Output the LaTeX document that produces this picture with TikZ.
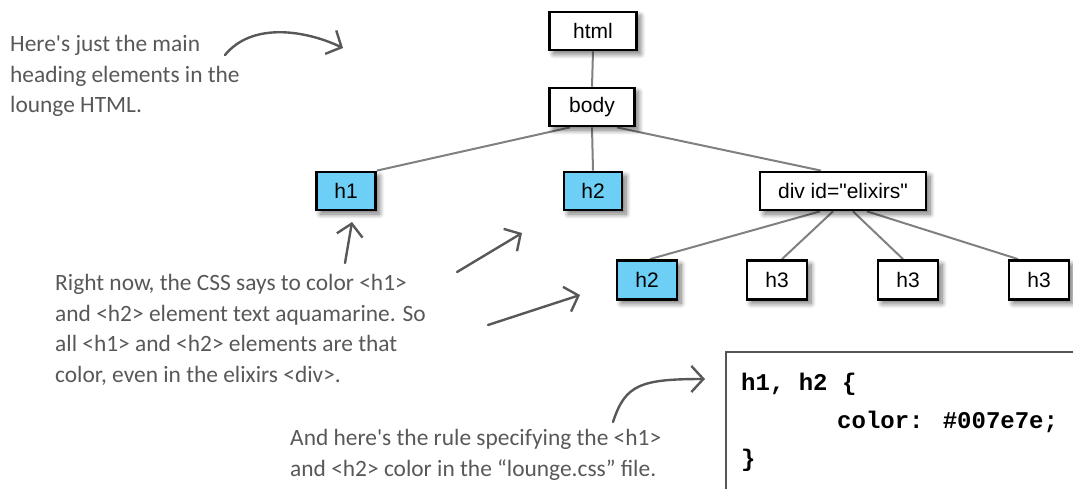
\documentclass[tikz,border=0pt]{standalone}
\usepackage{fontspec}
\setmainfont{Liberation Sans}[Ligatures=TeXOff]
\newfontfamily\handfont{Carlito}
\newfontfamily\codefont{Liberation Mono}
\usetikzlibrary{shadows.blur,arrows.meta,calc}
\definecolor{aqua}{RGB}{110,207,246}
\definecolor{edgegray}{RGB}{128,128,128}
\definecolor{notegray}{RGB}{88,88,88}
\definecolor{boxgray}{RGB}{85,85,85}
\pgfdeclarelayer{background}
\pgfsetlayers{background,main}
\tikzset{
  elem/.style={draw=black, line width=2.8pt, fill=white, minimum height=38pt, inner sep=0pt,
    font=\fontsize{21}{21}\selectfont,
    blur shadow={shadow xshift=4pt, shadow yshift=-4pt, shadow blur radius=5pt, shadow blur steps=10, shadow opacity=55}},
  hl/.style={fill=aqua},
  tree/.style={draw=edgegray, line width=2pt},
  note/.style={font=\handfont\fontsize{23.4}{30.5}\selectfont, text=notegray, align=left, inner sep=0pt, anchor=base west},
  code/.style={font=\codefont\bfseries\fontsize{24}{24}\selectfont, anchor=base west, inner sep=0pt},
  notearrow/.style={draw=notegray, line width=2.4pt, line cap=round, line join=round,
    -{Straight Barb[length=12pt, width=26pt, line width=2.4pt]}},
}
\begin{document}
\begin{tikzpicture}[x=1pt,y=-1pt]
\useasboundingbox (0,0) rectangle (1073,489);

% tree nodes
\node[elem, minimum width=87pt] (html) at (593,31) {html};
\node[elem, minimum width=85pt] (body) at (592,107) {body};
\node[elem, hl, minimum width=59pt] (h1) at (346,191) {h1};
\node[elem, hl, minimum width=58pt] (h2) at (593,191) {h2};
\node[elem, minimum width=166pt] (div) at (843,191) {div id="elixirs"};
\node[elem, hl, minimum width=60pt, minimum height=39pt] (h2b) at (647,280) {h2};
\node[elem, minimum width=60pt, minimum height=39pt] (h3a) at (777,280) {h3};
\node[elem, minimum width=60pt, minimum height=39pt] (h3b) at (908,280) {h3};
\node[elem, minimum width=60pt, minimum height=39pt] (h3c) at (1039,280) {h3};

\begin{pgfonlayer}{background}
\draw[tree] (html.south) -- (body.north);
\draw[tree] ([xshift=-22pt]body.south) -- (h1.north east);
\draw[tree] (body.south) -- (h2.north);
\draw[tree] ([xshift=25pt]body.south) -- ([xshift=-22pt]div.north);
\draw[tree] ([xshift=-23pt]div.south) -- ([xshift=3pt]h2b.north);
\draw[tree] ([xshift=-10pt]div.south) -- ([xshift=5pt]h3a.north);
\draw[tree] ([xshift=10pt]div.south) -- ([xshift=-5pt]h3b.north);
\draw[tree] ([xshift=24pt]div.south) -- ([xshift=-21pt]h3c.north);
\end{pgfonlayer}

% CSS box
\draw[draw=boxgray, line width=2.5pt, fill=white] (726,352) rectangle (1085,500);
\node[code] (css1) at (741,390) {h1, h2 \{};
\node[code] (css2) at (837,428) {color: \#007e7e;};
\node[code] (css3) at (741,466) {\}};

% notes (anchor = baseline of last line)
\node[note] (n1) at (10,113) {Here's just the main\\heading elements in the\\lounge HTML.};
\node[note] (n2) at (55,382) {Right now, the CSS says to color <h1>\\and <h2> element text aquamarine. So\\all <h1> and <h2> elements are that\\color, even in the elixirs <div>.};
\node[note] (n3) at (290,476) {And here's the rule specifying the <h1>\\and <h2> color in the “lounge.css” file.};

% note arrows
\coordinate (a1s) at (225,55);
\coordinate (a1e) at (343,48);
\draw[notearrow] (a1s) .. controls (252,22) and (305,30) .. (a1e);
\coordinate (a2s) at (345,263);
\coordinate (a2e) at (352,222);
\draw[notearrow] (a2s) -- (a2e);
\coordinate (a3s) at (457,272);
\coordinate (a3e) at (522,233);
\draw[notearrow] (a3s) -- (a3e);
\coordinate (a4s) at (488,325);
\coordinate (a4e) at (580,295);
\draw[notearrow] (a4s) -- (a4e);
\coordinate (a5s) at (613,422);
\coordinate (a5e) at (705,379);
\draw[notearrow] (a5s) .. controls (625,385) and (640,379) .. (a5e);
\end{tikzpicture}
\end{document}
